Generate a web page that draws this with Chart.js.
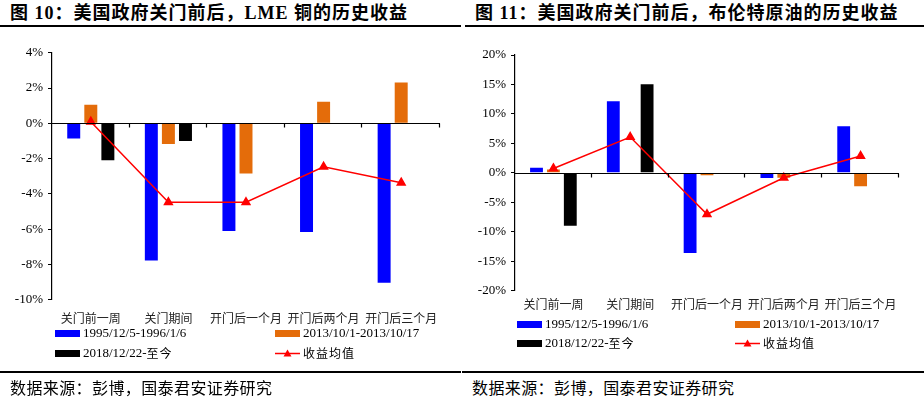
<!DOCTYPE html>
<html>
<head>
<meta charset="utf-8">
<script src="https://cdn.jsdelivr.net/npm/chart.js@4.4.1/dist/chart.umd.min.js"></script>
<style>
  html, body { margin: 0; padding: 0; background: #fff; }
  body { width: 924px; height: 398px; position: relative; overflow: hidden; font-family: "Liberation Serif", "Noto Sans CJK SC", serif; color: #000; }
  .panel { position: absolute; top: 0; width: 462px; height: 398px; }
  .title { position: absolute; top: 1px; font-size: 18px; font-weight: bold; letter-spacing: 1px; white-space: nowrap; line-height: 24px; }
  .rule { position: absolute; height: 1.5px; background: #000; }
  .chart { position: absolute; top: 40px; width: 462px; }
  .source { position: absolute; left: 10px; top: 376px; font-size: 16px; font-family: "Noto Sans CJK SC", sans-serif; white-space: nowrap; line-height: 22px; letter-spacing: 0.4px; }
  .leg { position: absolute; font-size: 13px; white-space: nowrap; line-height: 16px; display: flex; align-items: center; }
  .leg .sw { display: inline-block; width: 25px; height: 7px; margin-right: 3px; }
  .leg .cjk { font-family: "Noto Sans CJK SC", sans-serif; font-size: 12px; letter-spacing: 1px; }
  .leg svg { margin-right: 3px; }
</style>
</head>
<body>
<div class="panel" style="left:0">
  <div class="title" style="left:10px">图 10：美国政府关门前后，LME 铜的历史收益</div>
  <div class="rule" style="left:0;width:461px;top:25px"></div>
  <canvas id="cu" class="chart" style="left:0;height:298px"></canvas>
  <div id="cu-legend"></div>
  <div class="rule" style="left:0;width:461px;top:371px"></div>
  <div class="source">数据来源：彭博，国泰君安证券研究</div>
</div>
<div class="panel" style="left:462px">
  <div class="title" style="left:13px">图 11：美国政府关门前后，布伦特原油的历史收益</div>
  <div class="rule" style="left:3px;width:459px;top:25px"></div>
  <canvas id="oil" class="chart" style="left:0;height:279px"></canvas>
  <div id="oil-legend"></div>
  <div class="rule" style="left:0;width:462px;top:371px"></div>
  <div class="source">数据来源：彭博，国泰君安证券研究</div>
</div>
<script>
const categories = ['关门前一周', '关门期间', '开门后一个月', '开门后两个月', '开门后三个月']
const seriesNames = ['1995/12/5-1996/1/6', '2013/10/1-2013/10/17', '2018/12/22-至今', '收益均值']

// LME 铜 (%)
const cuBlue = [-0.86, -7.78, -6.11, -6.17, -9.05]
const cuOrange = [1.05, -1.18, -2.85, 1.22, 2.32]
const cuBlack = [-2.10, -1.01, null, null, null]
const cuMean = [0.09, -4.48, -4.48, -2.47, -3.37]
const cuTicks = { min: -10, max: 4, step: 2 }

// 布伦特原油 (%)
const oilBlue = [0.85, 12.15, -13.6, -0.9, 7.89]
const oilOrange = [0.57, null, -0.4, -0.85, -2.27]
const oilBlack = [-8.97, 15.04, null, null, null]
const oilMean = [0.74, 6.07, -7.04, -0.85, 2.84]
const oilTicks = { min: -20, max: 20, step: 5 }

const BLUE = '#0000FF'
const ORANGE = '#E46C0A'
const BLACK = '#000000'
const RED = '#FF0000'

Chart.defaults.font.family = '"Liberation Serif", "Noto Sans CJK SC", serif'
Chart.defaults.font.size = 13
Chart.defaults.color = '#000'

// zero line across the plot with small ticks at the category boundaries
const zeroAxis = {
  id: 'zeroAxis',
  afterDatasetsDraw(chart) {
    const { ctx, chartArea, scales } = chart
    const y0 = Math.round(scales.y.getPixelForValue(0)) + 0.5
    const n = chart.data.labels.length
    const step = (chartArea.right - chartArea.left) / n
    ctx.save()
    ctx.strokeStyle = '#000'
    ctx.lineWidth = 1.2
    ctx.beginPath()
    ctx.moveTo(chartArea.left, y0)
    ctx.lineTo(chartArea.right, y0)
    for (let i = 1; i <= n; i++) {
      const x = Math.round(chartArea.left + step * i) - 0.5
      ctx.moveTo(x, y0)
      ctx.lineTo(x, y0 + 4)
    }
    ctx.stroke()
    ctx.restore()
  },
}

function makeChart(id, blue, orange, black, mean, t, yWidth, pad) {
  const bar = (label, data, color) => ({
    type: 'bar', label, data, backgroundColor: color, order: 2,
    categoryPercentage: 0.66, barPercentage: 0.76,
  })
  return new Chart(document.getElementById(id), {
    data: {
      labels: categories,
      datasets: [
        bar(seriesNames[0], blue, BLUE),
        bar(seriesNames[1], orange, ORANGE),
        bar(seriesNames[2], black, BLACK),
        {
          type: 'line', label: seriesNames[3], data: mean, order: 1,
          borderColor: RED, backgroundColor: RED, borderWidth: 1.5,
          pointStyle: 'triangle', pointRadius: 4.5, pointHoverRadius: 4.5,
        },
      ],
    },
    plugins: [zeroAxis],
    options: {
      responsive: false,
      animation: false,
      events: [],
      layout: { padding: pad },
      plugins: { legend: { display: false }, tooltip: { enabled: false } },
      scales: {
        x: {
          grid: { display: false, drawTicks: false },
          border: { display: false },
          ticks: {
            padding: pad.tickPad, maxRotation: 0, autoSkip: false, color: '#222',
            font: { family: '"Noto Sans CJK SC", sans-serif', size: 12 },
          },
        },
        y: {
          min: t.min, max: t.max,
          afterFit(scale) { scale.width = yWidth },
          ticks: { stepSize: t.step, padding: 5, callback: (v) => v + '%' },
          grid: { drawOnChartArea: false, tickLength: 4, color: '#000' },
          border: { color: '#000', width: 1.2 },
        },
      },
    },
  })
}

function legend(el, left, right, rows) {
  const items = [
    { x: left, y: rows[0], html: `<span class="sw" style="background:${BLUE}"></span>${seriesNames[0]}` },
    { x: right, y: rows[0], html: `<span class="sw" style="background:${ORANGE}"></span>${seriesNames[1]}` },
    { x: left, y: rows[1], html: `<span class="sw" style="background:${BLACK}"></span>2018/12/22-<span class="cjk">至今</span>` },
    {
      x: right, y: rows[1],
      html: `<svg width="25" height="9"><line x1="0" y1="4.5" x2="25" y2="4.5" stroke="${RED}" stroke-width="1.5"/><polygon points="12.5,0.5 16.5,7.5 8.5,7.5" fill="${RED}"/></svg><span class="cjk">${seriesNames[3]}</span>`,
    },
  ]
  document.getElementById(el).innerHTML = items
    .map((it) => `<div class="leg" style="left:${it.x}px;top:${it.y - 8}px">${it.html}</div>`)
    .join('')
}

const cuCanvas = document.getElementById('cu')
cuCanvas.width = 462; cuCanvas.height = 298
const oilCanvas = document.getElementById('oil')
oilCanvas.width = 462; oilCanvas.height = 279

makeChart('cu', cuBlue, cuOrange, cuBlack, cuMean, cuTicks, 52, { top: 10, right: 22, bottom: 0, left: 0, tickPad: 12 })
makeChart('oil', oilBlue, oilOrange, oilBlack, oilMean, oilTicks, 53, { top: 15, right: 25, bottom: 0, left: 0, tickPad: 7 })

legend('cu-legend', 55, 275, [333, 353])
legend('oil-legend', 55, 273, [324, 343])
</script>
</body>
</html>
